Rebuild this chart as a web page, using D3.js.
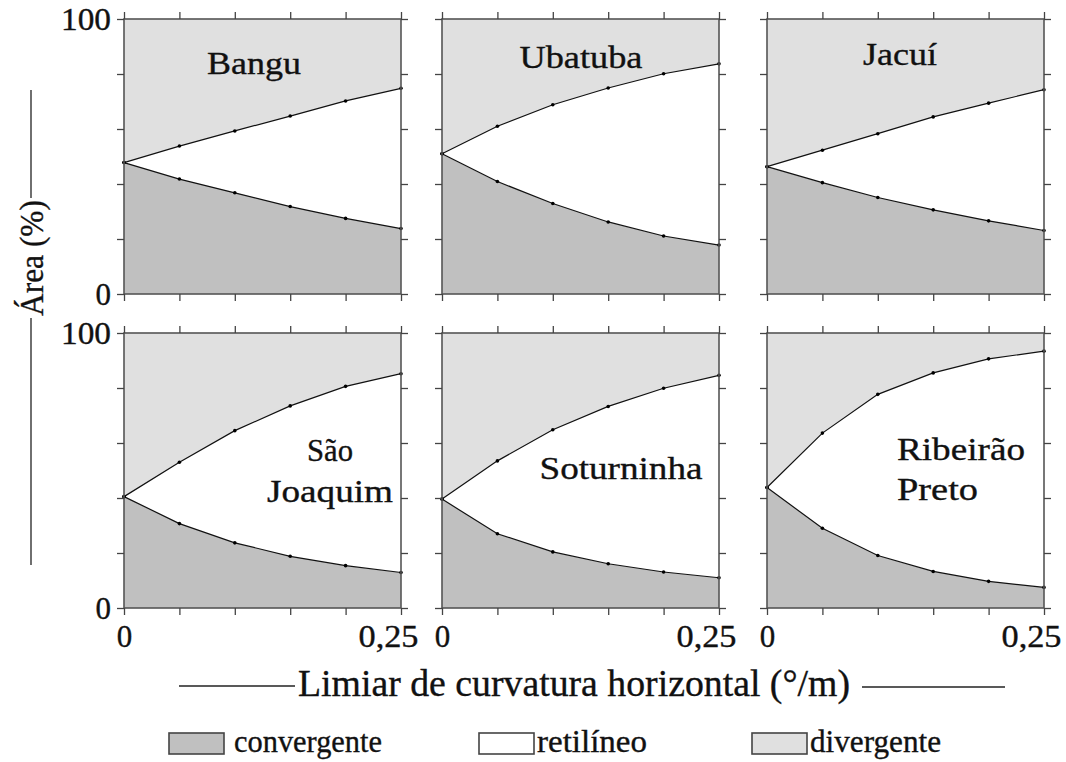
<!DOCTYPE html>
<html>
<head>
<meta charset="utf-8">
<script src="https://cdn.jsdelivr.net/npm/d3@7"></script>
<style>
  html, body { margin: 0; padding: 0; background: #fff; }
  svg { display: block; }
  svg text { font-family: "Liberation Serif", "Times New Roman", serif; }
</style>
</head>
<body>
<svg id="chart" width="1066" height="762"></svg>
<script>
// ---------------- DATA ----------------
const sites = ["Bangu", "Ubatuba", "Jacuí", "São Joaquim", "Soturninha", "Ribeirão Preto"];
const thresholds = [0, 0.05, 0.10, 0.15, 0.20, 0.25];   // limiar (°/m)
const classes = ["convergente", "retilíneo", "divergente"];

// area (%) of each class, one row per site, one value per threshold
const convergente = [
  [47.8, 41.8, 36.8, 31.8, 27.5, 23.8],
  [51.0, 40.9, 32.9, 26.2, 21.1, 17.8],
  [46.3, 40.5, 35.1, 30.6, 26.6, 23.1],
  [40.5, 30.7, 23.7, 18.8, 15.4, 12.9],
  [39.6, 27.0, 20.4, 16.1, 13.1, 11.0],
  [43.8, 29.0, 19.1, 13.3,  9.7,  7.5]
];
const retilineo = [
  [0, 12.0, 22.5, 32.9, 42.7, 51.0],
  [0, 20.1, 35.9, 48.7, 59.0, 65.9],
  [0, 11.8, 23.2, 33.8, 42.8, 51.2],
  [0, 22.3, 40.8, 54.7, 65.2, 72.3],
  [0, 26.5, 44.4, 57.2, 66.8, 73.6],
  [0, 34.6, 58.6, 72.2, 80.9, 85.9]
];
const divergente = [
  [52.2, 46.2, 40.7, 35.3, 29.8, 25.2],
  [49.0, 39.0, 31.2, 25.1, 19.9, 16.3],
  [53.7, 47.7, 41.7, 35.6, 30.6, 25.7],
  [59.5, 47.0, 35.5, 26.5, 19.4, 14.8],
  [60.4, 46.5, 35.2, 26.7, 20.1, 15.4],
  [56.2, 36.4, 22.3, 14.5,  9.4,  6.6]
];
const yTicks = [0, 20, 40, 60, 80, 100];
const yTickLabels = ["0", "", "", "", "", "100"];
const xTickLabels = ["0", "", "", "", "", "0,25"];
const yTitle = "Área (%)";
const xTitle = "Limiar de curvatura horizontal (°/m)";

// ---------------- LAYOUT / STYLE ----------------
const colors = { "convergente": "#c0c0c0", "retilíneo": "#ffffff", "divergente": "#e0e0e0" };
const panelLefts = [124, 442, 767];
const panelTops = [19, 333];
const pw = 277, ph = 275;
const fontFamily = '"Liberation Serif", "Times New Roman", serif';
const titleLayout = [
  { lines: ["Bangu"], x: 130, y: [55], anchor: "middle", len: [94] },
  { lines: ["Ubatuba"], x: 139, y: [49], anchor: "middle", len: [123] },
  { lines: ["Jacuí"], x: 133, y: [46], anchor: "middle", len: [74] },
  { lines: ["São", "Joaquim"], x: 206, y: [128, 169], anchor: "middle", len: [46, 126] },
  { lines: ["Soturninha"], x: 179, y: [146], anchor: "middle", len: [163] },
  { lines: ["Ribeirão", "Preto"], x: 130, y: [127, 167], anchor: "start", len: [128, 81] }
];

const svg = d3.select("#chart");

const x = d3.scaleLinear().domain([0, 0.25]).range([0, pw]);
const y = d3.scaleLinear().domain([0, 100]).range([ph, 0]);

const stack = d3.stack().keys(classes);
const area = d3.area().x(d => x(d.data.t)).y0(d => y(d[0])).y1(d => y(d[1]));
const line = d3.line().x(d => x(d.data.t)).y(d => y(d[1]));

function serif(sel, size) {
  return sel.style("font-family", fontFamily).style("font-size", size + "px")
    .attr("fill", "#111").attr("stroke", "#111").attr("stroke-width", 0.35);
}

sites.forEach((site, i) => {
  const col = i % 3, row = Math.floor(i / 3);
  const g = svg.append("g").attr("transform", `translate(${panelLefts[col]},${panelTops[row]})`);

  const rows = thresholds.map((t, k) => ({
    t,
    "convergente": convergente[i][k],
    "retilíneo": retilineo[i][k],
    "divergente": divergente[i][k]
  }));
  const layers = stack(rows);

  g.selectAll("path.area").data(layers).join("path")
    .attr("class", "area")
    .attr("d", area)
    .attr("fill", d => colors[d.key])
    .attr("stroke", "none");

  const bounds = layers.slice(0, 2);
  g.selectAll("path.bound").data(bounds).join("path")
    .attr("class", "bound")
    .attr("d", line)
    .attr("fill", "none")
    .attr("stroke", "#111")
    .attr("stroke-width", 1.2);

  bounds.forEach(layer => {
    g.selectAll(null).data(layer).join("circle")
      .attr("cx", d => x(d.data.t))
      .attr("cy", d => y(d[1]))
      .attr("r", 1.8)
      .attr("fill", "#000");
  });

  g.append("rect").attr("x", 0).attr("y", 0).attr("width", pw).attr("height", ph)
    .attr("fill", "none").attr("stroke", "#555").attr("stroke-width", 1.6);

  const left = d3.axisLeft(y).tickValues(yTicks).tickSizeInner(7).tickSizeOuter(0).tickPadding(6)
    .tickFormat((d, k) => col === 0 ? yTickLabels[k] : "");
  const right = d3.axisRight(y).tickValues(yTicks).tickSizeInner(7).tickSizeOuter(0).tickFormat("");
  const top = d3.axisTop(x).tickValues(thresholds).tickSizeInner(7).tickSizeOuter(0).tickFormat("");
  const bottom = d3.axisBottom(x).tickValues(thresholds).tickSizeInner(7).tickSizeOuter(0).tickPadding(10)
    .tickFormat((d, k) => row === 1 ? xTickLabels[k] : "");

  const ga = [
    g.append("g").call(left),
    g.append("g").attr("transform", `translate(${pw},0)`).call(right),
    g.append("g").call(top),
    g.append("g").attr("transform", `translate(0,${ph})`).call(bottom)
  ];
  ga.forEach(a => {
    a.attr("font-family", null).attr("font-size", null);
    a.select(".domain").remove();
    a.selectAll(".tick line").attr("stroke", "#444").attr("stroke-width", 1.3);
    serif(a.selectAll(".tick text"), 31);
  });
  ga[0].selectAll(".tick text").attr("dy", "0.34em")
    .each(function () { const t = d3.select(this); if (t.text() === "100") t.attr("textLength", 50).attr("lengthAdjust", "spacingAndGlyphs"); });
  ga[3].selectAll(".tick text").attr("dy", "0.71em")
    .each(function () {
      const t = d3.select(this);
      if (t.text() === "0,25") t.attr("text-anchor", "end").attr("x", 17).attr("textLength", 60).attr("lengthAdjust", "spacingAndGlyphs");
    });

  const tl = titleLayout[i];
  tl.lines.forEach((s, k) => {
    serif(g.append("text"), 31)
      .attr("x", tl.x).attr("y", tl.y[k])
      .attr("text-anchor", tl.anchor)
      .attr("textLength", tl.len[k]).attr("lengthAdjust", "spacingAndGlyphs")
      .text(s);
  });
});

// ---------------- Axis titles ----------------
serif(svg.append("text"), 34)
  .attr("transform", "translate(43,258) rotate(-90)")
  .attr("text-anchor", "middle")
  .attr("textLength", 116).attr("lengthAdjust", "spacingAndGlyphs")
  .text(yTitle);
svg.append("line").attr("x1", 31).attr("x2", 31).attr("y1", 90).attr("y2", 198).attr("stroke", "#222").attr("stroke-width", 1.3);
svg.append("line").attr("x1", 31).attr("x2", 31).attr("y1", 318).attr("y2", 565).attr("stroke", "#222").attr("stroke-width", 1.3);

serif(svg.append("text"), 37)
  .attr("x", 298).attr("y", 696)
  .attr("textLength", 552).attr("lengthAdjust", "spacingAndGlyphs")
  .text(xTitle);
svg.append("line").attr("x1", 179).attr("x2", 295).attr("y1", 686).attr("y2", 686).attr("stroke", "#222").attr("stroke-width", 1.3);
svg.append("line").attr("x1", 862).attr("x2", 1005).attr("y1", 687).attr("y2", 687).attr("stroke", "#222").attr("stroke-width", 1.3);

// ---------------- Legend ----------------
const legendBoxX = [169, 479, 752];
const legendTextX = [234, 537, 810];
const legendTextLen = [148, 110, 131];
const lg = svg.append("g");
classes.forEach((c, k) => {
  lg.append("rect")
    .attr("x", legendBoxX[k]).attr("y", 733).attr("width", 55).attr("height", 21)
    .attr("fill", colors[c]).attr("stroke", "#444").attr("stroke-width", 1.6);
  serif(lg.append("text"), 31)
    .attr("x", legendTextX[k]).attr("y", 752)
    .attr("textLength", legendTextLen[k]).attr("lengthAdjust", "spacingAndGlyphs")
    .text(c);
});
</script>
</body>
</html>
